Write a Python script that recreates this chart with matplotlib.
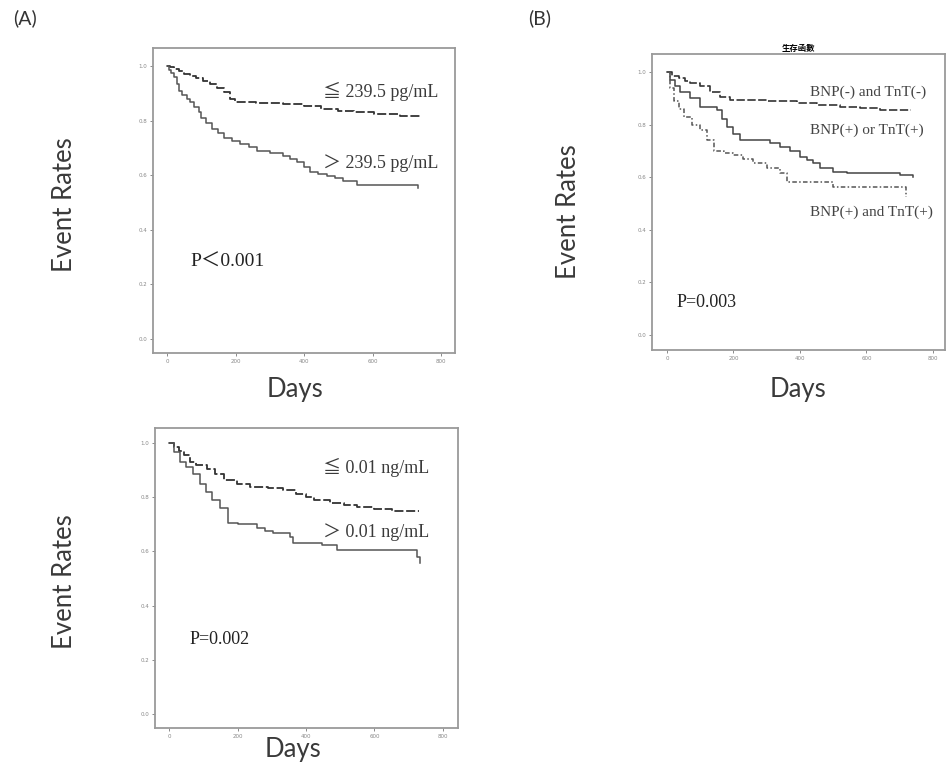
import numpy as np
import matplotlib
matplotlib.use("Agg")
import matplotlib.pyplot as plt

# Kaplan-Meier style curves
# (A) top: BNP
bnp_lo_t = [0, 10, 20, 35, 50, 68, 85, 105, 126, 145, 165, 185, 199, 260, 340, 400, 450, 500, 545, 605, 680, 740]
bnp_lo_s = [1.0, 0.995, 0.99, 0.98, 0.972, 0.965, 0.955, 0.945, 0.935, 0.92, 0.905, 0.88, 0.868, 0.865, 0.86, 0.852, 0.843, 0.836, 0.83, 0.825, 0.818, 0.812]
bnp_hi_t = [0, 5, 12, 20, 28, 34, 45, 58, 68, 80, 92, 100, 115, 130, 148, 165, 190, 214, 240, 262, 300, 340, 360, 380, 400, 418, 440, 467, 490, 515, 554, 700, 734]
bnp_hi_s = [1.0, 0.985, 0.975, 0.96, 0.935, 0.91, 0.895, 0.88, 0.868, 0.85, 0.83, 0.81, 0.79, 0.77, 0.755, 0.738, 0.725, 0.714, 0.702, 0.69, 0.68, 0.67, 0.66, 0.647, 0.63, 0.61, 0.603, 0.596, 0.588, 0.578, 0.565, 0.565, 0.553]

# (A) bottom: TnT
tnt_lo_t = [0, 15, 30, 45, 61, 80, 110, 135, 160, 198, 237, 290, 334, 370, 400, 422, 470, 510, 549, 600, 650, 729]
tnt_lo_s = [1.0, 0.985, 0.97, 0.955, 0.93, 0.92, 0.905, 0.885, 0.865, 0.85, 0.836, 0.832, 0.826, 0.81, 0.8, 0.79, 0.78, 0.77, 0.762, 0.755, 0.75, 0.748]
tnt_hi_t = [0, 15, 32, 50, 70, 91, 108, 125, 150, 173, 200, 256, 280, 305, 354, 363, 446, 490, 700, 724, 734]
tnt_hi_s = [1.0, 0.965, 0.93, 0.91, 0.885, 0.85, 0.82, 0.79, 0.76, 0.703, 0.7, 0.685, 0.675, 0.666, 0.654, 0.63, 0.623, 0.605, 0.605, 0.58, 0.556]

# (B) combined
neg_t = [0, 15, 35, 55, 70, 100, 130, 160, 190, 220, 300, 390, 450, 520, 580, 640, 735]
neg_s = [1.0, 0.985, 0.975, 0.965, 0.956, 0.945, 0.925, 0.905, 0.895, 0.892, 0.888, 0.88, 0.875, 0.868, 0.862, 0.855, 0.855]
one_t = [0, 10, 25, 40, 70, 100, 150, 165, 180, 200, 220, 270, 310, 340, 370, 400, 420, 440, 460, 500, 540, 700, 740]
one_s = [1.0, 0.97, 0.945, 0.924, 0.9, 0.867, 0.855, 0.82, 0.79, 0.765, 0.743, 0.74, 0.73, 0.715, 0.7, 0.677, 0.665, 0.652, 0.633, 0.62, 0.614, 0.608, 0.6]
both_t = [0, 10, 20, 35, 50, 75, 100, 120, 140, 170, 200, 230, 260, 300, 340, 360, 480, 500, 710, 720]
both_s = [1.0, 0.94, 0.89, 0.86, 0.83, 0.8, 0.78, 0.74, 0.70, 0.69, 0.684, 0.67, 0.652, 0.635, 0.614, 0.582, 0.582, 0.563, 0.563, 0.525]

yticks = [0.0, 0.2, 0.4, 0.6, 0.8, 1.0]
xticks = [0, 200, 400, 600, 800]

serif = ['Liberation Serif', 'Noto Sans CJK JP', 'DejaVu Serif']
sans = 'Lato'
frame_col = '#9a9a9a'


def style_axes(ax, xlim, ylim):
    ax.set_xlim(*xlim)
    ax.set_ylim(*ylim)
    ax.set_xticks(xticks)
    ax.set_yticks(yticks)
    ax.set_xticklabels([str(v) for v in xticks], fontsize=4, color='#888888')
    ax.set_yticklabels(['%.1f' % v for v in yticks], fontsize=4, color='#888888')
    ax.tick_params(length=2.5, width=0.6, color='#777777', pad=1.5)
    for sp in ax.spines.values():
        sp.set_color(frame_col)
        sp.set_linewidth(1.3)


fig = plt.figure(figsize=(9.48, 7.67), dpi=100)

# ---- (A) top
ax1 = fig.add_axes([0.1614, 0.5398, 0.3186, 0.3977])
ax1.step(bnp_lo_t, bnp_lo_s, where='post', color='#333333', lw=1.3, linestyle=(0, (5, 1.5)))
ax1.step(bnp_hi_t, bnp_hi_s, where='post', color='#555555', lw=1.1)
style_axes(ax1, (-41, 841), (-0.051, 1.066))
ax1.text(455, 0.905, '≦ 239.5 pg/mL', family=serif, fontsize=13, color='#3a3a3a', va='center')
ax1.text(455, 0.645, '＞ 239.5 pg/mL', family=serif, fontsize=13, color='#3a3a3a', va='center')
ax1.text(67, 0.282, 'P＜0.001', family=serif, fontsize=14, color='#222222', va='center')

# ---- (B)
ax2 = fig.add_axes([0.6878, 0.5437, 0.309, 0.3859])
ax2.step(neg_t, neg_s, where='post', color='#333333', lw=1.2, linestyle=(0, (5, 1.5)))
ax2.step(one_t, one_s, where='post', color='#444444', lw=1.1)
ax2.step(both_t, both_s, where='post', color='#555555', lw=1.1, linestyle=(0, (3, 1.5, 1, 1.5)))
style_axes(ax2, (-45, 836), (-0.057, 1.068))
ax2.set_title('生存函數', family=['Noto Sans CJK TC'], fontsize=6, fontweight='bold', pad=2)
ax2.text(430, 0.924, 'BNP(-) and TnT(-)', family=serif, fontsize=11, color='#444444', va='center')
ax2.text(430, 0.78, 'BNP(+) or TnT(+)', family=serif, fontsize=11, color='#444444', va='center')
ax2.text(430, 0.468, 'BNP(+) and TnT(+)', family=serif, fontsize=11, color='#444444', va='center',
         clip_on=False)
ax2.text(30, 0.122, 'P=0.003', family=serif, fontsize=13, color='#222222', va='center')

# ---- (A) bottom
ax3 = fig.add_axes([0.1635, 0.0508, 0.3196, 0.3911])
ax3.step(tnt_lo_t, tnt_lo_s, where='post', color='#333333', lw=1.3, linestyle=(0, (5, 1.5)))
ax3.step(tnt_hi_t, tnt_hi_s, where='post', color='#555555', lw=1.1)
style_axes(ax3, (-41, 844), (-0.052, 1.055))
ax3.text(450, 0.911, '≦ 0.01 ng/mL', family=serif, fontsize=13, color='#3a3a3a', va='center')
ax3.text(450, 0.672, '＞ 0.01 ng/mL', family=serif, fontsize=13, color='#3a3a3a', va='center')
ax3.text(61, 0.273, 'P=0.002', family=serif, fontsize=13, color='#222222', va='center')

# axis titles placed like the original composite
lab = dict(family=sans, fontsize=18.5, ha='center', va='center', color='#3a3a3a')
fig.text(65 / 948, 1 - 205 / 767, 'Event Rates', rotation=90, **lab)
fig.text(568 / 948, 1 - 212 / 767, 'Event Rates', rotation=90, **lab)
fig.text(65 / 948, 1 - 582 / 767, 'Event Rates', rotation=90, **lab)
fig.text(295 / 948, 1 - 390 / 767, 'Days', **lab)
fig.text(798 / 948, 1 - 390 / 767, 'Days', **lab)
fig.text(293 / 948, 1 - 750 / 767, 'Days', **lab)

fig.text(25 / 948, 1 - 18 / 767, '(A)', family=sans, fontsize=14, ha='center', va='center', color='#333333')
fig.text(540 / 948, 1 - 18 / 767, '(B)', family=sans, fontsize=14, ha='center', va='center', color='#333333')

fig.savefig('out.png', dpi=100)
